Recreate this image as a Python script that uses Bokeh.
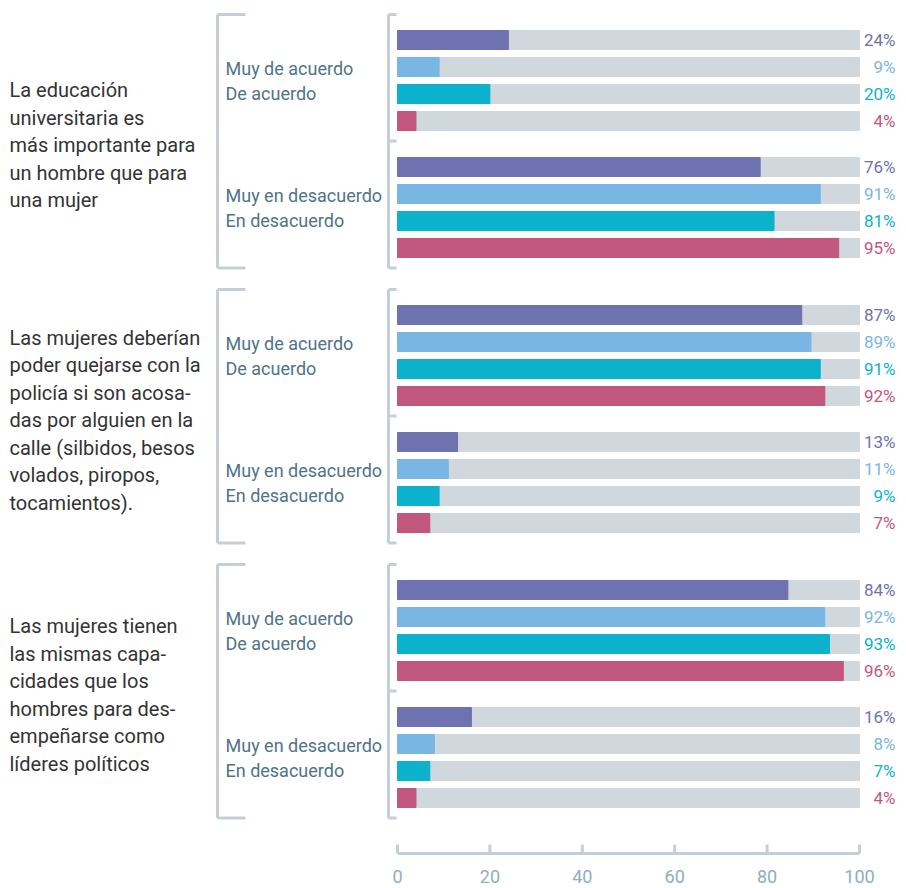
from bokeh.plotting import figure
from bokeh.models import Range1d, ColumnDataSource
from bokeh.core.properties import value
from bokeh.embed import file_html
from bokeh.resources import INLINE

# ---------------- data ----------------
questions = [
    ["La educación", "universitaria es", "más importante para", "un hombre que para", "una mujer"],
    ["Las mujeres deberían", "poder quejarse con la", "policía si son acosa-", "das por alguien en la",
     "calle (silbidos, besos", "volados, piropos,", "tocamientos)."],
    ["Las mujeres tienen", "las mismas capa-", "cidades que los", "hombres para des-",
     "empeñarse como", "líderes políticos"],
]
answer_labels = [["Muy de acuerdo", "De acuerdo"], ["Muy en desacuerdo", "En desacuerdo"]]
series_colors = ["#6e72b0", "#7ab6e4", "#0cb1cc", "#c1577d"]
# labelled values[group][subgroup] -> 4 series
values = [
    [[24, 9, 20, 4], [76, 91, 81, 95]],
    [[87, 89, 91, 92], [13, 11, 9, 7]],
    [[84, 92, 93, 96], [16, 8, 7, 4]],
]
# bar lengths as drawn in the picture
bar_lengths = [
    [[24, 9, 20, 4], [78.5, 91.5, 81.5, 95.5]],
    [[87.5, 89.5, 91.5, 92.5], [13, 11, 9, 7]],
    [[84.5, 92.5, 93.5, 96.5], [16, 8, 7, 4]],
]
ticks = [0, 20, 40, 60, 80, 100]

# ---------------- layout constants ----------------
W, H = 904, 886
PX = 4.62                      # pixels per percentage point
X0 = 397                       # canvas x of 0 %
ROW0, ROW_STEP, SUB_STEP, GRP_STEP = 39.5, 27, 127, 275
BAR_H = 19
BRACKET = "#c3cfd8"
FONT = value("Roboto")

def dx(canvas_x):
    return (canvas_x - X0) / PX

p = figure(width=W, height=H, output_backend="svg", toolbar_location=None,
           x_range=Range1d(dx(0), dx(W)), y_range=Range1d(H, 0),
           x_axis_type=None, y_axis_type=None, min_border=0)
p.outline_line_color = None
p.xgrid.visible = False
p.ygrid.visible = False
p.background_fill_color = "white"

bar_y, bar_v, bar_c, lab_txt = [], [], [], []
for g in range(3):
    for s in range(2):
        for i in range(4):
            y = ROW0 + g * GRP_STEP + s * SUB_STEP + i * ROW_STEP
            bar_y.append(y)
            bar_v.append(bar_lengths[g][s][i])
            bar_c.append(series_colors[i])
            lab_txt.append(f"{values[g][s][i]}%")

src = ColumnDataSource(dict(y=bar_y, v=bar_v, c=bar_c, t=lab_txt,
                            full=[100] * len(bar_y), lx=[dx(895)] * len(bar_y)))
p.hbar(y="y", left=0, right="full", height=BAR_H, color="#d0d8de", source=src)
p.hbar(y="y", left=0, right="v", height=BAR_H, color="c", source=src)
p.text(x="lx", y="y", text="t", text_color="c", text_font=FONT, text_font_size="17px",
       text_align="right", text_baseline="middle", source=src)

# brackets, subgroup labels, questions
for g in range(3):
    top_first = ROW0 + g * GRP_STEP
    last = top_first + SUB_STEP + 3 * ROW_STEP
    y_top = top_first - 25.5
    y_bot = last + 20
    y_mid = top_first + 3 * ROW_STEP + 20
    # outer bracket
    p.segment(x0=[dx(217)] * 3, y0=[y_top, y_top, y_bot], x1=[dx(217), dx(245), dx(245)],
              y1=[y_bot, y_top, y_bot], line_color=BRACKET, line_width=3)
    # inner bracket
    p.segment(x0=[dx(388)] * 4, y0=[y_top, y_top, y_mid, y_bot],
              x1=[dx(388), dx(396), dx(396), dx(396)], y1=[y_bot, y_top, y_mid, y_bot],
              line_color=BRACKET, line_width=3)
    # subgroup labels
    for s in range(2):
        cy = top_first + s * SUB_STEP + 1.5 * ROW_STEP
        p.text(x=[dx(225)] * 2, y=[cy - 12.5, cy + 12.5], text=answer_labels[s],
               text_color="#4e7487", text_font=FONT, text_font_size="18px",
               text_baseline="middle")
    # question
    lines = questions[g]
    n = len(lines)
    cy = (top_first + last) / 2 + 1
    ys = [cy + (k - (n - 1) / 2) * 27.5 for k in range(n)]
    p.text(x=[dx(9)] * n, y=ys, text=lines, text_color="#333333", text_font=FONT,
           text_font_size="20px", text_baseline="middle")

# axis
AX_Y = 853
p.segment(x0=[0], y0=[AX_Y], x1=[100], y1=[AX_Y], line_color=BRACKET, line_width=3)
p.segment(x0=ticks, y0=[AX_Y] * len(ticks), x1=ticks, y1=[AX_Y - 9] * len(ticks),
          line_color=BRACKET, line_width=3)
p.text(x=ticks, y=[AX_Y + 23] * len(ticks), text=[str(t) for t in ticks],
       text_color="#8eaec2", text_font=FONT, text_font_size="18px",
       text_align="center", text_baseline="middle")

open("out.html", "w").write(file_html(p, INLINE))
